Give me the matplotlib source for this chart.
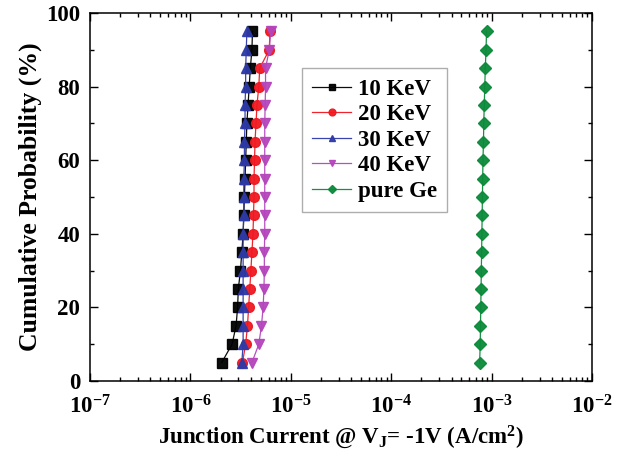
import numpy as np
import matplotlib
matplotlib.use('Agg')
import matplotlib.pyplot as plt
from matplotlib.ticker import LogLocator, MultipleLocator, NullFormatter

plt.rcParams['font.family'] = ['Liberation Serif', 'DejaVu Serif']
plt.rcParams['mathtext.fontset'] = 'custom'
plt.rcParams['mathtext.rm'] = 'Liberation Serif:bold'
plt.rcParams['mathtext.it'] = 'Liberation Serif:bold'
plt.rcParams['mathtext.bf'] = 'Liberation Serif:bold'

# cumulative probability (%)
prob = [5, 10, 15, 20, 25, 30, 35, 40, 45, 50, 55, 60, 65, 70, 75, 80, 85, 90, 95]

# junction current (A/cm^2)
kev10 = [2.05e-6, 2.6e-6, 2.85e-6, 2.95e-6, 3.0e-6, 3.15e-6, 3.25e-6, 3.35e-6, 3.4e-6, 3.45e-6,
         3.5e-6, 3.55e-6, 3.6e-6, 3.65e-6, 3.75e-6, 3.85e-6, 3.95e-6, 4.1e-6, 4.15e-6]
kev20 = [3.3e-6, 3.55e-6, 3.7e-6, 3.8e-6, 3.9e-6, 4.0e-6, 4.1e-6, 4.2e-6, 4.25e-6, 4.3e-6,
         4.3e-6, 4.35e-6, 4.4e-6, 4.5e-6, 4.6e-6, 4.8e-6, 4.9e-6, 6.1e-6, 6.2e-6]
kev30 = [3.25e-6, 3.35e-6, 3.35e-6, 3.35e-6, 3.35e-6, 3.35e-6, 3.35e-6, 3.35e-6, 3.4e-6, 3.4e-6,
         3.4e-6, 3.45e-6, 3.45e-6, 3.5e-6, 3.5e-6, 3.55e-6, 3.55e-6, 3.6e-6, 3.65e-6]
kev40 = [4.1e-6, 4.8e-6, 5.1e-6, 5.3e-6, 5.4e-6, 5.45e-6, 5.45e-6, 5.5e-6, 5.5e-6, 5.5e-6,
         5.5e-6, 5.5e-6, 5.5e-6, 5.5e-6, 5.55e-6, 5.6e-6, 5.6e-6, 6.1e-6, 6.3e-6]
pure_ge = [7.6e-4, 7.7e-4, 7.75e-4, 7.8e-4, 7.85e-4, 7.9e-4, 7.95e-4, 8.0e-4, 8.05e-4, 8.1e-4,
           8.15e-4, 8.2e-4, 8.3e-4, 8.35e-4, 8.45e-4, 8.55e-4, 8.65e-4, 8.8e-4, 8.9e-4]

series = [
    (kev10, '10 KeV', 'black', 's'),
    (kev20, '20 KeV', '#f01820', 'o'),
    (kev30, '30 KeV', '#2e3aa8', '^'),
    (kev40, '40 KeV', '#b445bc', 'v'),
    (pure_ge, 'pure Ge', '#0b8a3a', 'D'),
]

fig = plt.figure(figsize=(6.26, 4.59), dpi=100)
ax = fig.add_axes([0.1438, 0.170, 0.8019, 0.8017])

for vals, label, color, marker in series:
    ms = 6 if marker == 'D' else 7
    ax.plot(vals, prob, color=color, marker=marker, markersize=ms, linewidth=0.9,
            label=label, alpha=0.95)

ax.set_xscale('log')
ax.set_xlim(1e-7, 1e-2)
ax.set_ylim(0, 100)
ax.yaxis.set_major_locator(MultipleLocator(20))
ax.yaxis.set_minor_locator(MultipleLocator(10))
ax.xaxis.set_major_locator(LogLocator(base=10, numticks=10))
ax.xaxis.set_minor_locator(LogLocator(base=10, subs=np.arange(2, 10), numticks=20))
ax.xaxis.set_minor_formatter(NullFormatter())

ax.tick_params(which='both', direction='in', top=True, right=True, width=1)
ax.tick_params(which='major', length=6, labelsize=16.5)
ax.tick_params(axis='y', which='major', pad=7)
ax.tick_params(axis='x', which='major', pad=10)
ax.tick_params(which='minor', length=3)
for lab in ax.get_xticklabels() + ax.get_yticklabels():
    lab.set_fontweight('bold')
for sp in ax.spines.values():
    sp.set_linewidth(1.1)

ax.set_xlabel(r'Junction Current @ V$_\mathregular{J}$= -1V (A/cm$^\mathregular{2}$)',
              fontsize=16.5, fontweight='bold', labelpad=4)
ax.set_ylabel('Cumulative Probability (%)', fontsize=18.5, fontweight='bold', labelpad=3)

leg = ax.legend(loc='upper left', bbox_to_anchor=(0.422, 0.85), frameon=True, fancybox=False,
                edgecolor='#999999', prop={'size': 16.5, 'weight': 'bold'},
                handlelength=1.7, handletextpad=0.3, labelspacing=0.2, borderpad=0.45,
                markerscale=0.7, borderaxespad=0)
leg.get_frame().set_linewidth(1.0)

fig.savefig('out.png', dpi=100)
